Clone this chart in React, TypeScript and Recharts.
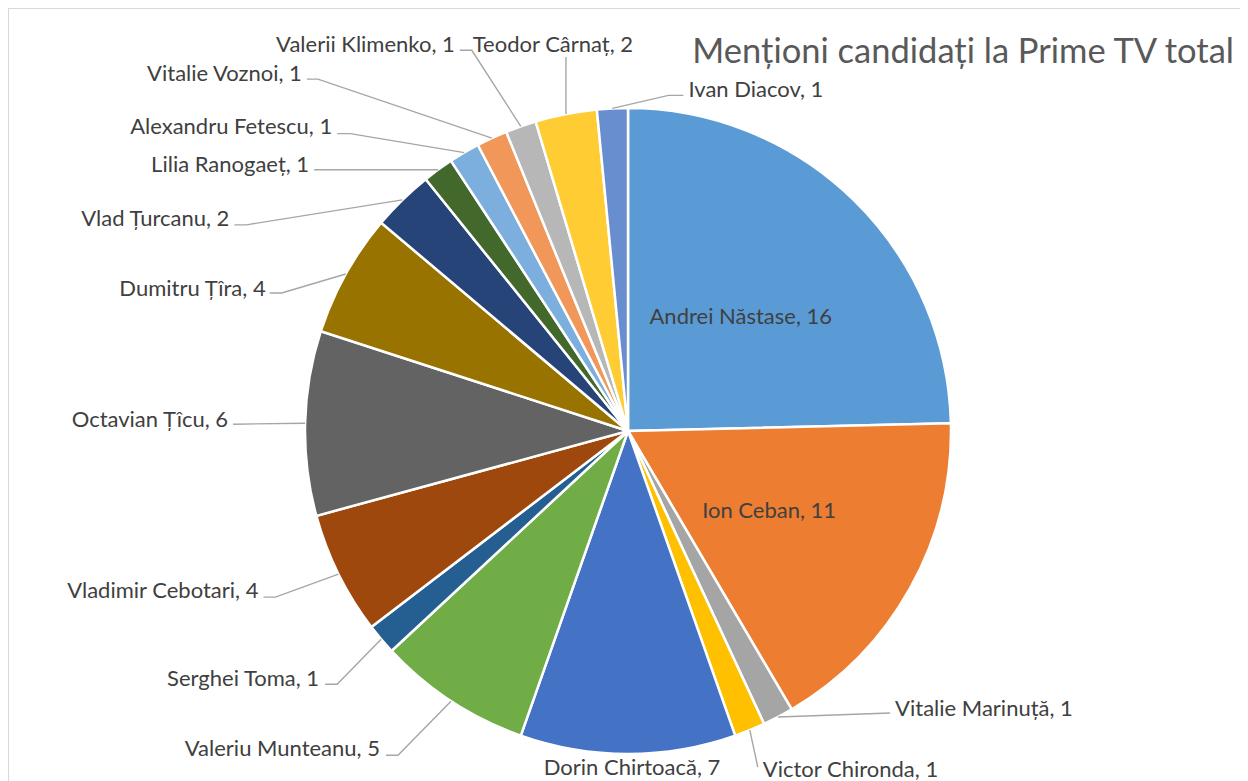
import React from "react";
import { PieChart, Pie, Cell } from "recharts";

const names = [
  "Andrei Năstase",
  "Ion Ceban",
  "Vitalie Marinuță",
  "Victor Chironda",
  "Dorin Chirtoacă",
  "Valeriu Munteanu",
  "Serghei Toma",
  "Vladimir Cebotari",
  "Octavian Țîcu",
  "Dumitru Țîra",
  "Vlad Țurcanu",
  "Lilia Ranogaeț",
  "Alexandru Fetescu",
  "Vitalie Voznoi",
  "Valerii Klimenko",
  "Teodor Cârnaț",
  "Ivan Diacov",
];

const mentions = [16, 11, 1, 1, 7, 5, 1, 4, 6, 4, 2, 1, 1, 1, 1, 2, 1];

const colors = [
  "#5B9BD5", "#ED7D31", "#A5A5A5", "#FFC000", "#4472C4", "#70AD47",
  "#255E91", "#9E480E", "#636363", "#997300", "#264478", "#43682B",
  "#7CAFDD", "#F1975A", "#B7B7B7", "#FFCD33", "#698ED0",
];

const title = "Menționi candidați la Prime TV total";

// label layout: offsets from the slice's outer edge point (elbow, end of leader, text anchor)
type LabelLayout = {
  inside?: boolean;
  line?: boolean;
  bx?: number; by?: number;
  hx?: number; hy?: number;
  tx: number; ty: number;
  anchor: "start" | "middle" | "end";
};

const labelLayout: LabelLayout[] = [
  { inside: true, tx: 0, ty: 0, anchor: "middle" },
  { inside: true, tx: 0, ty: 0, anchor: "middle" },
  { line: true, bx: 112, by: -4, hx: 112, hy: -4, tx: 117, ty: -10, anchor: "start" },
  { line: true, bx: 8, by: 37, hx: 8, hy: 37, tx: 13, ty: 38, anchor: "start" },
  { line: false, tx: 4, ty: 12, anchor: "middle" },
  { line: true, bx: -53, by: 54, hx: -65, hy: 54, tx: -71, ty: 46, anchor: "end" },
  { line: true, bx: -44, by: 45, hx: -56, hy: 45, tx: -62, ty: 38, anchor: "end" },
  { line: true, bx: -63, by: 23, hx: -75, hy: 23, tx: -80, ty: 15, anchor: "end" },
  { line: true, bx: -72, by: 1, hx: -72, hy: 1, tx: -77, ty: -5, anchor: "end" },
  { line: true, bx: -64, by: 19, hx: -76, hy: 19, tx: -80, ty: 13, anchor: "end" },
  { line: true, bx: -156, by: 25, hx: -168, hy: 25, tx: -173, ty: 18, anchor: "end" },
  { line: true, bx: -124, by: 0, hx: -124, hy: 0, tx: -129, ty: -6, anchor: "end" },
  { line: true, bx: -114, by: -19, hx: -127, hy: -19, tx: -132, ty: -27, anchor: "end" },
  { line: true, bx: -174, by: -59, hx: -185, hy: -59, tx: -190, ty: -66, anchor: "end" },
  { line: true, bx: -49, by: -76, hx: -61, hy: -76, tx: -66, ty: -83, anchor: "end" },
  { line: true, bx: 0, by: -57, hx: 0, hy: -57, tx: -13, ty: -71, anchor: "middle" },
  { line: true, bx: 56, by: -13, hx: 71, hy: -13, tx: 76, ty: -20, anchor: "start" },
];

const data = names.map((n, i) => ({ name: n, value: mentions[i] }));

const FONT = "Lato, 'Noto Sans', sans-serif";
const LABEL_SIZE = 22;
const RAD = Math.PI / 180;

const renderLabel = (props: any) => {
  const { cx, cy, midAngle, outerRadius, index, name, value } = props;
  const lay = labelLayout[index];
  const text = `${name}, ${value}`;
  if (lay.inside) {
    const r = outerRadius * 0.5;
    const x = cx + r * Math.cos(-midAngle * RAD);
    const y = cy + r * Math.sin(-midAngle * RAD);
    return (
      <text x={x} y={y} textAnchor="middle" dominantBaseline="central" fill="#404040" fontSize={LABEL_SIZE} fontFamily={FONT}>
        {text}
      </text>
    );
  }
  const ex = cx + outerRadius * Math.cos(-midAngle * RAD);
  const ey = cy + outerRadius * Math.sin(-midAngle * RAD);
  return (
    <g>
      {lay.line && (
        <polyline
          points={`${ex},${ey} ${ex + (lay.bx || 0)},${ey + (lay.by || 0)} ${ex + (lay.hx || 0)},${ey + (lay.hy || 0)}`}
          fill="none"
          stroke="#A6A6A6"
          strokeWidth={1.4}
        />
      )}
      <text x={ex + lay.tx} y={ey + lay.ty} textAnchor={lay.anchor} dominantBaseline="central" fill="#404040" fontSize={LABEL_SIZE} fontFamily={FONT}>
        {text}
      </text>
    </g>
  );
};

export default function App() {
  return (
    <div style={{ position: "relative", width: 1240, height: 773, overflow: "hidden", background: "#fff" }}>
      <div
        style={{
          position: "absolute",
          left: 0,
          top: 0,
          width: 1240,
          height: 800,
          boxSizing: "border-box",
          border: "1px solid #D9D9D9",
          pointerEvents: "none",
        }}
      />
      <PieChart width={1240} height={773} margin={{ top: 0, right: 0, bottom: 0, left: 0 }}>
        <text x={1226} y={55} textAnchor="end" fill="#595959" fontSize={34.5} fontFamily={FONT}>
          {title}
        </text>
        <Pie
          data={data}
          dataKey="value"
          nameKey="name"
          cx={620}
          cy={423}
          outerRadius={323}
          startAngle={90}
          endAngle={-270}
          stroke="#FFFFFF"
          strokeWidth={2.5}
          label={renderLabel}
          labelLine={false}
          isAnimationActive={false}
        >
          {data.map((d, i) => (
            <Cell key={d.name} fill={colors[i]} />
          ))}
        </Pie>
      </PieChart>
    </div>
  );
}
